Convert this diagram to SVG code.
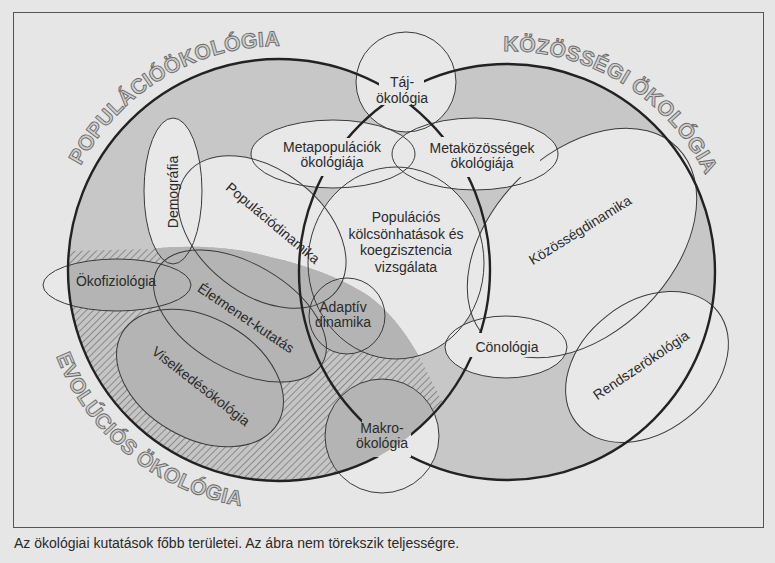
<svg xmlns="http://www.w3.org/2000/svg" xmlns:xlink="http://www.w3.org/1999/xlink" width="775" height="563" viewBox="0 0 775 563">
<defs>
<style>
.lbl{font-family:"Liberation Sans",Arial,sans-serif;font-size:14px;fill:#2a2a2a;text-anchor:middle}
.cap{font-family:"Liberation Sans",Arial,sans-serif;font-size:14px;fill:#2a2a2a}
.big{font-family:"Liberation Sans",Arial,sans-serif;font-size:21px;font-weight:bold;fill:#cecece;stroke:#6a6a6a;stroke-width:0.9;letter-spacing:0.3px}
.thin{fill:none;stroke:#3a3a3a;stroke-width:1}
.thick{fill:none;stroke:#222;stroke-width:2.4}
.paper{fill:#e8e8e8;stroke:none}
.ring{fill:#c7c7c7;stroke:none}
.evo{fill:#b4b4b4;stroke:none}
</style>
<pattern id="hatch" width="5" height="5" patternUnits="userSpaceOnUse" patternTransform="rotate(45)">
<rect width="5" height="5" fill="#c5c5c5"/>
<line x1="0.5" y1="0" x2="0.5" y2="5" stroke="#8a8a8a" stroke-width="1"/>
</pattern>
<circle id="cLeft" cx="279" cy="270" r="211"/>
<circle id="cRight" cx="507" cy="272" r="208"/>
<circle id="eTaj" cx="406" cy="82" r="50"/>
<ellipse id="eMetapop" cx="333" cy="154" rx="82" ry="34"/>
<ellipse id="eMetakoz" cx="475" cy="154" rx="83" ry="36"/>
<ellipse id="eDemo" cx="173" cy="191" rx="29" ry="73"/>
<ellipse id="ePopdin" cx="0" cy="0" rx="95" ry="62" transform="translate(262 232) rotate(38)"/>
<ellipse id="ePopkol" cx="396" cy="263" rx="88" ry="96"/>
<circle id="eAdapt" cx="347" cy="316" r="38"/>
<ellipse id="eOkofiz" cx="117" cy="285" rx="74" ry="26"/>
<ellipse id="eElet" cx="0" cy="0" rx="95" ry="53" transform="translate(240 316) rotate(30)"/>
<ellipse id="eVisel" cx="0" cy="0" rx="90" ry="60" transform="translate(200 378) rotate(30)"/>
<circle id="eMakro" cx="382" cy="436" r="57"/>
<ellipse id="eCeno" cx="506" cy="347" rx="61" ry="31"/>
<ellipse id="eKozdin" cx="0" cy="0" rx="135" ry="90" transform="translate(582 243) rotate(-45)"/>
<ellipse id="eRendsz" cx="0" cy="0" rx="90" ry="65" transform="translate(647 367) rotate(-38)"/>
<g id="allEll">
<use xlink:href="#eTaj"/><use xlink:href="#eMetapop"/><use xlink:href="#eMetakoz"/><use xlink:href="#eDemo"/>
<use xlink:href="#ePopdin"/><use xlink:href="#ePopkol"/><use xlink:href="#eAdapt"/><use xlink:href="#eOkofiz"/>
<use xlink:href="#eElet"/><use xlink:href="#eVisel"/><use xlink:href="#eMakro"/><use xlink:href="#eCeno"/>
<use xlink:href="#eKozdin"/><use xlink:href="#eRendsz"/>
</g>
<clipPath id="clipLeft"><circle cx="279" cy="270" r="211"/></clipPath>
<clipPath id="clipEvo"><path d="M20,252 L150,249 C195,244 240,248 270,257 C310,266 345,280 370,297 C395,316 415,345 430,378 L462,440 L462,530 L20,530 Z"/></clipPath>
<mask id="gaps" maskUnits="userSpaceOnUse" x="0" y="0" width="775" height="563">
<rect width="775" height="563" fill="#fff"/>
<rect x="379" y="68" width="45" height="37" fill="#000"/>
<rect x="290" y="138" width="90" height="38" fill="#000"/>
<rect x="430" y="137" width="110" height="40" fill="#000"/>
<rect x="468" y="333" width="80" height="24" fill="#000"/>
<rect x="362" y="420" width="49" height="37" fill="#000"/>
</mask>
<path id="arcPop" d="M57.8,235 A224,224 0 0,1 351.9,58.2"/>
<path id="arcKoz" d="M396.5,80.6 A221,221 0 0,1 727.7,283.6"/>
<path id="arcEvo" d="M42.9,232.6 A239,239 0 0,0 364.7,493.1"/>
</defs>

<rect width="775" height="563" fill="#e6e6e6"/>
<rect x="13.5" y="12.5" width="750" height="515" fill="none" stroke="#555" stroke-width="1"/>

<g id="shading">
<use xlink:href="#cLeft" class="ring"/>
<use xlink:href="#cRight" class="ring"/>
<use xlink:href="#allEll" class="paper"/>
<g clip-path="url(#clipLeft)">
<g clip-path="url(#clipEvo)">
<rect x="0" y="200" width="500" height="340" fill="url(#hatch)"/>
<use xlink:href="#allEll" class="evo"/>
</g>
</g>
</g>

<g id="outlines">
<use xlink:href="#eTaj" class="thin"/><use xlink:href="#eMetapop" class="thin"/><use xlink:href="#eMetakoz" class="thin"/>
<use xlink:href="#eDemo" class="thin"/><use xlink:href="#ePopdin" class="thin"/><use xlink:href="#ePopkol" class="thin"/>
<use xlink:href="#eAdapt" class="thin"/><use xlink:href="#eOkofiz" class="thin"/><use xlink:href="#eElet" class="thin"/>
<use xlink:href="#eVisel" class="thin"/><use xlink:href="#eMakro" class="thin"/><use xlink:href="#eCeno" class="thin"/>
<use xlink:href="#eRendsz" class="thin"/>
<use xlink:href="#eKozdin" class="thin" mask="url(#gaps)"/>
</g>

<g id="connectors" mask="url(#gaps)">
<use xlink:href="#cLeft" class="thick"/>
<use xlink:href="#cRight" class="thick"/>
</g>

<g id="big-labels">
<text class="big"><textPath xlink:href="#arcPop" startOffset="50%" text-anchor="middle">POPULÁCIÓÖKOLÓGIA</textPath></text>
<text class="big"><textPath xlink:href="#arcKoz" startOffset="50%" text-anchor="middle">KÖZÖSSÉGI ÖKOLÓGIA</textPath></text>
<text class="big"><textPath xlink:href="#arcEvo" startOffset="50%" text-anchor="middle">EVOLÚCIÓS ÖKOLÓGIA</textPath></text>
</g>

<g id="n-taj"><text class="lbl" x="402" y="87">Táj-</text><text class="lbl" x="402" y="103">ökológia</text></g>
<g id="n-metapop"><text class="lbl" x="332" y="152">Metapopulációk</text><text class="lbl" x="332" y="167">ökológiája</text></g>
<g id="n-metakoz"><text class="lbl" x="482" y="153">Metaközösségek</text><text class="lbl" x="482" y="168">ökológiája</text></g>
<g id="n-demo"><text class="lbl" transform="translate(173 192) rotate(-90)" x="0" y="5">Demográfia</text></g>
<g id="n-popdin"><text class="lbl" transform="translate(273 223) rotate(40)" x="0" y="5">Populációdinamika</text></g>
<g id="n-popkol"><text class="lbl" x="406" y="222">Populációs</text><text class="lbl" x="406" y="238.5">kölcsönhatások és</text><text class="lbl" x="406" y="255">koegzisztencia</text><text class="lbl" x="406" y="271.5">vizsgálata</text></g>
<g id="n-adapt"><text class="lbl" x="343" y="312">Adaptív</text><text class="lbl" x="343" y="327">dinamika</text></g>
<g id="n-okofiz"><text class="lbl" x="116" y="286">Ökofiziológia</text></g>
<g id="n-elet"><text class="lbl" transform="translate(246 318) rotate(34)" x="0" y="5">Életmenet-kutatás</text></g>
<g id="n-visel"><text class="lbl" transform="translate(201 386) rotate(38)" x="0" y="5">Viselkedésökológia</text></g>
<g id="n-makro"><text class="lbl" x="382" y="433">Makro-</text><text class="lbl" x="382" y="448">ökológia</text></g>
<g id="n-ceno"><text class="lbl" x="507" y="352">Cönológia</text></g>
<g id="n-kozdin"><text class="lbl" transform="translate(580 230) rotate(-32)" x="0" y="5">Közösségdinamika</text></g>
<g id="n-rendsz"><text class="lbl" transform="translate(641 365) rotate(-34)" x="0" y="5">Rendszerökológia</text></g>

<text class="cap" x="14" y="548">Az ökológiai kutatások főbb területei. Az ábra nem törekszik teljességre.</text>
</svg>
